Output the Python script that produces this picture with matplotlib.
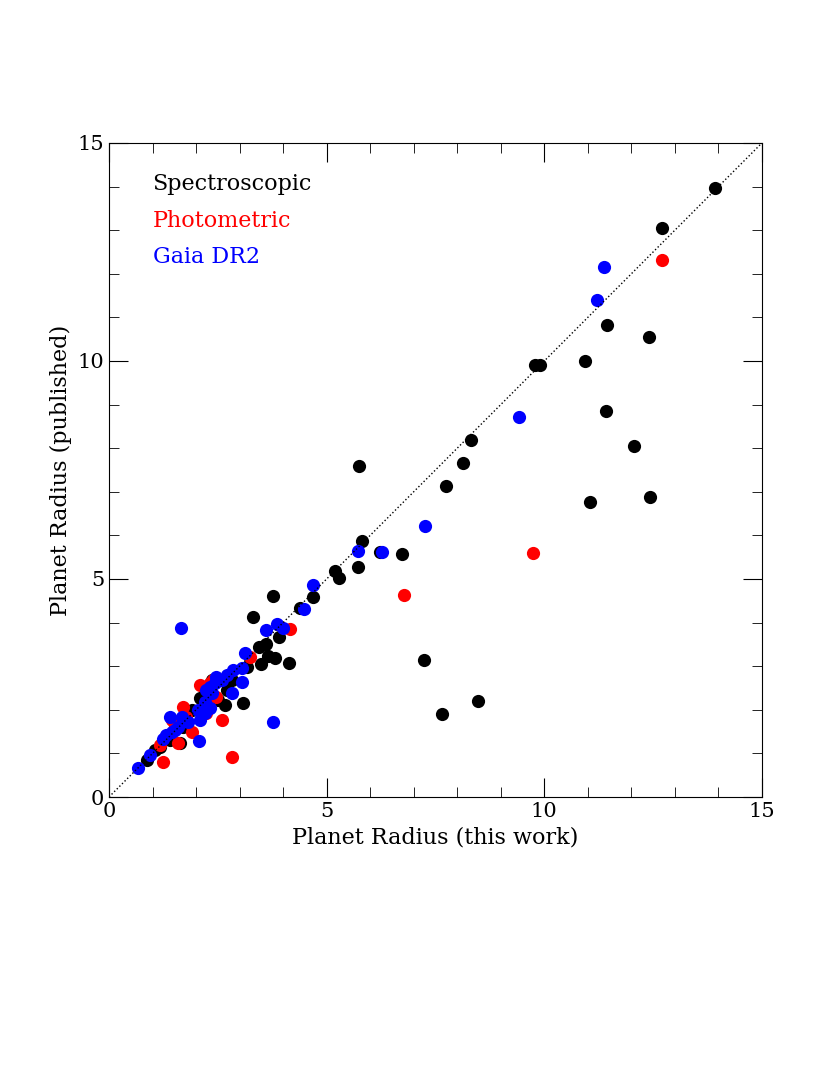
import matplotlib
matplotlib.use("Agg")
import matplotlib.pyplot as plt
from matplotlib.ticker import MultipleLocator

spec_x = [13.92,12.70,11.44,12.41,10.94,9.79,9.90,11.42,12.06,12.43,11.05,8.32,8.13,7.74,5.74,5.81,5.72,5.19,5.28,6.23,6.73,7.24,7.65,8.48,4.69,4.39,3.77,3.31,4.14,3.91,3.81,3.65,3.49,3.61,3.45,3.08,
          0.87,1.06,1.17,1.63,1.90,2.09,2.37,2.66,2.71,3.17,2.09,1.70,1.40,2.32,2.83,2.50]
spec_y = [13.97,13.05,10.83,10.55,10.00,9.91,9.91,8.85,8.05,6.88,6.77,8.19,7.66,7.13,7.59,5.87,5.28,5.18,5.02,5.62,5.57,3.14,1.90,2.20,4.59,4.33,4.61,4.13,3.07,3.67,3.19,3.23,3.05,3.51,3.44,2.16,
          0.85,1.08,1.15,1.24,2.00,2.27,2.68,2.11,2.45,2.98,2.00,1.61,1.31,2.52,2.68,2.22]
phot_x = [12.70,9.74,6.78,4.16,2.83,1.24,2.09,2.59,1.90,1.59,1.17,3.24,2.32,2.47,2.24,1.52,1.44,2.39,1.70,1.78]
phot_y = [12.32,5.60,4.63,3.85,0.92,0.80,2.57,1.77,1.50,1.24,1.19,3.21,2.61,2.30,1.93,1.61,1.77,2.68,2.06,1.84]
gaia_x = [11.37,11.21,9.42,7.26,5.72,6.27,4.69,4.48,3.61,3.86,4.00,3.77,1.65,2.07,0.66,0.94,1.24,1.32,1.40,1.52,1.67,1.82,2.09,2.05,2.21,2.36,2.24,2.32,2.44,2.59,2.70,2.82,2.86,3.05,3.05,3.12,1.59,1.44,2.32,2.21,2.47]
gaia_y = [12.16,11.40,8.72,6.22,5.64,5.62,4.86,4.31,3.83,3.97,3.88,1.72,3.88,1.28,0.66,0.96,1.33,1.42,1.84,1.54,1.84,1.72,1.77,2.00,2.19,2.39,2.45,2.52,2.61,2.68,2.80,2.39,2.91,2.96,2.64,3.30,1.61,1.50,2.04,1.93,2.75]

plt.rcParams['font.family'] = ['DejaVu Serif']
fig = plt.figure(figsize=(8.3, 10.75), dpi=100)
ax = fig.add_axes([0.1313, 0.2586, 0.7867, 0.6084])
ms = 9.5
ax.plot(spec_x, spec_y, 'o', color='black', ms=ms, mec='none')
ax.plot(phot_x, phot_y, 'o', color='red', ms=ms, mec='none')
ax.plot(gaia_x, gaia_y, 'o', color='blue', ms=ms, mec='none')
ax.plot([0, 15], [0, 15], ':', color='black', lw=1)
ax.set_xlim(0, 15); ax.set_ylim(0, 15)
ax.xaxis.set_major_locator(MultipleLocator(5)); ax.yaxis.set_major_locator(MultipleLocator(5))
ax.xaxis.set_minor_locator(MultipleLocator(1)); ax.yaxis.set_minor_locator(MultipleLocator(1))
ax.tick_params(which='both', direction='in', top=True, right=True, labelsize=15)
ax.tick_params(which='major', length=14)
ax.tick_params(which='minor', length=7)
ax.set_xlabel('Planet Radius (this work)', fontsize=16)
ax.set_ylabel('Planet Radius (published)', fontsize=16)
for i, (t, c) in enumerate([('Spectroscopic', 'black'), ('Photometric', 'red'), ('Gaia DR2', 'blue')]):
    ax.text(1.0, 14.05 - 0.83 * i, t, color=c, fontsize=16, va='center')
fig.savefig('out.png', dpi=100)
